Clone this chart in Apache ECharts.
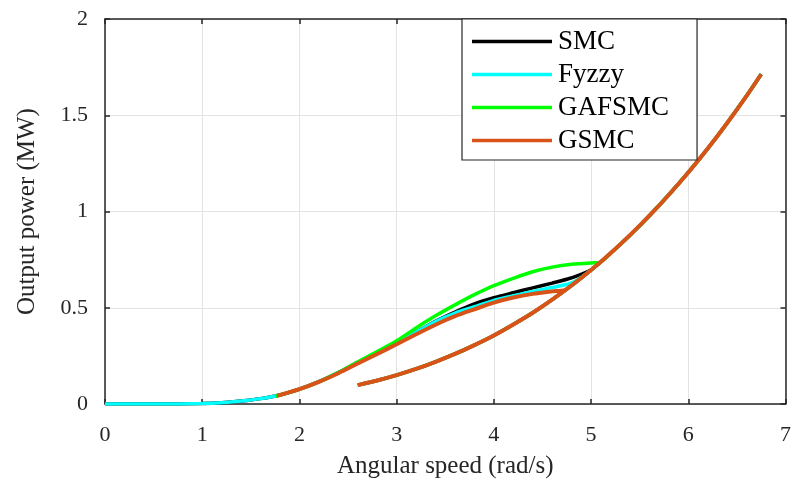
<!DOCTYPE html>
<html>
<head>
<meta charset="utf-8">
<script src="https://cdn.jsdelivr.net/npm/echarts@6/dist/echarts.min.js"></script>
<style>
html,body{margin:0;padding:0;background:#fff;}
#chart{width:794px;height:484px;}
</style>
</head>
<body>
<div id="chart"></div>
<script>
// Legend names
const seriesNames = ['SMC', 'Fyzzy', 'GAFSMC', 'GSMC'];
const seriesColors = ['#000000', '#00FFFF', '#00FF00', '#D95319'];

// Shared optimal-power (lower) branch
const lowerX = [2.6, 2.8, 3.0, 3.2, 3.4, 3.6, 3.8, 4.0, 4.2, 4.4, 4.6, 4.8, 5.0, 5.2, 5.4, 5.6, 5.8, 6.0, 6.2, 6.4, 6.6, 6.75];
const lowerY = [0.098, 0.122, 0.150, 0.182, 0.219, 0.260, 0.306, 0.356, 0.413, 0.474, 0.542, 0.616, 0.696, 0.783, 0.877, 0.978, 1.087, 1.203, 1.327, 1.460, 1.601, 1.713];

// Upper branches (per controller)
const smcX = [0, 0.5, 1.0, 1.2, 1.4, 1.6, 1.8, 2.0, 2.2, 2.4, 2.6, 2.8, 3.0, 3.2, 3.4, 3.6, 3.8, 4.0, 4.2, 4.4, 4.6, 4.75, 4.87];
const smcY = [0, 0, 0.002, 0.006, 0.015, 0.028, 0.047, 0.077, 0.116, 0.163, 0.216, 0.268, 0.318, 0.373, 0.43, 0.478, 0.52, 0.552, 0.578, 0.603, 0.628, 0.648, 0.668];

const fuzzyX = [0, 0.5, 1.0, 1.2, 1.4, 1.6, 1.8, 2.0, 2.2, 2.4, 2.6, 2.8, 3.0, 3.2, 3.4, 3.6, 3.8, 4.0, 4.2, 4.4, 4.6, 4.72, 4.82];
const fuzzyY = [0, 0, 0.002, 0.006, 0.015, 0.028, 0.047, 0.077, 0.116, 0.163, 0.216, 0.268, 0.318, 0.372, 0.428, 0.472, 0.505, 0.538, 0.562, 0.585, 0.605, 0.618, 0.634];

const gafX = [1.75, 2.0, 2.2, 2.4, 2.6, 2.8, 3.0, 3.2, 3.4, 3.6, 3.8, 4.0, 4.2, 4.4, 4.6, 4.8, 5.0, 5.08];
const gafY = [0.04, 0.076, 0.115, 0.163, 0.218, 0.272, 0.328, 0.395, 0.458, 0.515, 0.568, 0.615, 0.653, 0.687, 0.711, 0.726, 0.733, 0.734];

const gsmcX = [1.77, 2.0, 2.2, 2.4, 2.6, 2.8, 3.0, 3.2, 3.4, 3.6, 3.8, 4.0, 4.2, 4.4, 4.6, 4.73];
const gsmcY = [0.042, 0.077, 0.115, 0.16, 0.21, 0.26, 0.31, 0.362, 0.412, 0.456, 0.492, 0.527, 0.553, 0.572, 0.585, 0.592];

const xTicks = [0, 1, 2, 3, 4, 5, 6, 7];
const yTicks = [0, 0.5, 1, 1.5, 2];

function buildPath(ux, uy) {
  const pts = [];
  for (let i = 0; i < ux.length; i++) pts.push([ux[i], uy[i]]);
  const joinX = ux[ux.length - 1];
  let firstAfter = lowerX.findIndex(v => v > joinX);
  if (firstAfter < 0) firstAfter = lowerX.length - 1;
  for (let i = firstAfter; i < lowerX.length; i++) pts.push([lowerX[i], lowerY[i]]);
  pts.push(['-', '-']);
  for (let i = 0; i <= firstAfter; i++) pts.push([lowerX[i], lowerY[i]]);
  return pts;
}

const uppers = [[smcX, smcY], [fuzzyX, fuzzyY], [gafX, gafY], [gsmcX, gsmcY]];
const widths = [3.5, 3.5, 3.5, 4];

const font = "'Liberation Serif', 'Times New Roman', serif";
const axisColor = '#262626';

const series = seriesNames.map((name, i) => ({
  name: name,
  type: 'line',
  data: buildPath(uppers[i][0], uppers[i][1]),
  showSymbol: false,
  symbol: 'none',
  smooth: 0.25,
  connectNulls: false,
  lineStyle: { color: seriesColors[i], width: widths[i] },
  itemStyle: { color: seriesColors[i] },
  xAxisIndex: 0,
  yAxisIndex: 0,
  animation: false
}));

const chart = echarts.init(document.getElementById('chart'), null, { renderer: 'canvas' });
chart.setOption({
  animation: false,
  backgroundColor: '#ffffff',
  grid: { left: 105, right: 4, top: 19, bottom: 77.5, containLabel: false },
  legend: {
    data: seriesNames,
    orient: 'vertical',
    left: 462,
    top: 19,
    icon: 'rect',
    itemWidth: 80,
    itemHeight: 3.5,
    itemGap: 6,
    padding: [9, 28, 6, 10],
    backgroundColor: '#ffffff',
    borderColor: axisColor,
    borderWidth: 1.2,
    textStyle: { fontFamily: font, fontSize: 27, color: '#000', padding: [0, 0, 0, 1] }
  },
  xAxis: [{
    type: 'value', min: 0, max: 7, interval: 1,
    name: 'Angular speed (rad/s)', nameLocation: 'middle', nameGap: 50,
    nameTextStyle: { fontFamily: font, fontSize: 25, color: axisColor },
    axisLine: { show: true, onZero: false, lineStyle: { color: axisColor, width: 1.5 } },
    axisTick: { show: true, inside: true, length: 5, lineStyle: { color: axisColor, width: 1.5 } },
    axisLabel: { fontFamily: font, fontSize: 22, color: axisColor, margin: 20,
      formatter: v => xTicks.includes(v) ? String(v) : '' },
    splitLine: { show: true, lineStyle: { color: '#e3e3e3', width: 1 } }
  }, {
    type: 'value', min: 0, max: 7, interval: 1, position: 'top',
    axisLine: { show: true, onZero: false, lineStyle: { color: axisColor, width: 1.5 } },
    axisTick: { show: true, inside: true, length: 5, lineStyle: { color: axisColor, width: 1.5 } },
    axisLabel: { show: false }, splitLine: { show: false }
  }],
  yAxis: [{
    type: 'value', min: 0, max: 2, interval: 0.5,
    name: 'Output power (MW)', nameLocation: 'middle', nameGap: 65, nameRotate: 90,
    nameTextStyle: { fontFamily: font, fontSize: 25, color: axisColor },
    axisLine: { show: true, onZero: false, lineStyle: { color: axisColor, width: 1.5 } },
    axisTick: { show: true, inside: true, length: 5, lineStyle: { color: axisColor, width: 1.5 } },
    axisLabel: { fontFamily: font, fontSize: 22, color: axisColor, margin: 17,
      formatter: v => yTicks.includes(v) ? String(v) : '' },
    splitLine: { show: true, lineStyle: { color: '#e3e3e3', width: 1 } }
  }, {
    type: 'value', min: 0, max: 2, interval: 0.5, position: 'right',
    axisLine: { show: true, onZero: false, lineStyle: { color: axisColor, width: 1.5 } },
    axisTick: { show: true, inside: true, length: 5, lineStyle: { color: axisColor, width: 1.5 } },
    axisLabel: { show: false }, splitLine: { show: false }
  }],
  series: series
});
</script>
</body>
</html>
